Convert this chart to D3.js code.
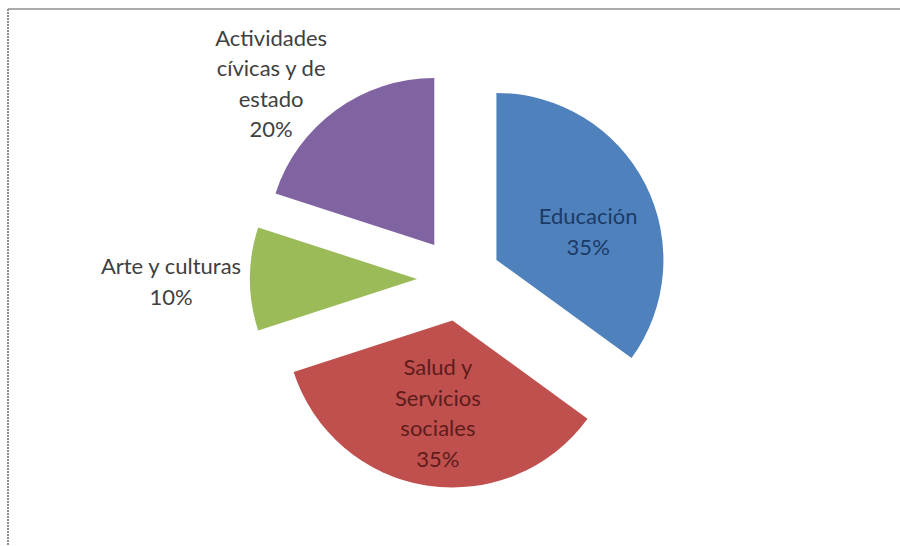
<!DOCTYPE html>
<html>
<head>
<meta charset="utf-8">
<script src="https://cdn.jsdelivr.net/npm/d3@7"></script>
<style>
  html, body { margin: 0; padding: 0; background: #fff; }
  svg { display: block; }
</style>
</head>
<body>
<div id="chart"></div>
<script>
// Datos del gráfico
const categories = ['Educación', 'Salud y Servicios sociales', 'Arte y culturas', 'Actividades cívicas y de estado'];
const values = [35, 35, 10, 20];
const labelLines = [
  ['Educación', '35%'],
  ['Salud y', 'Servicios', 'sociales', '35%'],
  ['Arte y culturas', '10%'],
  ['Actividades', 'cívicas y de', 'estado', '20%']
];

// Estilo
const colors = ['#4F81BD', '#C0504D', '#9BBB59', '#8064A2'];
const textColors = ['#1b3b66', '#5e1c1b', '#404040', '#404040'];

// Posición de etiquetas: radio desde el centro desplazado + ajuste fino
const labelLayout = [
  { r: 103, dx: 0, dy: 18 },
  { r: 93, dx: 0, dy: 0 },
  { r: 246, dx: 0, dy: 2 },
  { r: 230, dx: -28, dy: 24 }
];

const width = 900;
const height = 546;
const center = { x: 459, y: 279 };
const radius = 167;
const explode = 42;
const lineHeight = 30.5;

const svg = d3.select('#chart')
  .append('svg')
  .attr('width', width)
  .attr('height', height)
  .attr('viewBox', `0 0 ${width} ${height}`);

// Marco (borde superior e izquierdo)
svg.append('line')
  .attr('x1', 8).attr('y1', 9)
  .attr('x2', width).attr('y2', 9)
  .attr('stroke', '#ababab')
  .attr('stroke-width', 2);

svg.append('line')
  .attr('x1', 8).attr('y1', 9)
  .attr('x2', 8).attr('y2', height)
  .attr('stroke', '#8c8c8c')
  .attr('stroke-width', 2)
  .attr('stroke-dasharray', '2,1');

const pie = d3.pie()
  .sort(null)
  .value(d => d);

const arcs = pie(values);

const arc = d3.arc()
  .innerRadius(0)
  .outerRadius(radius);

const polar = (angle, r) => ({ x: Math.sin(angle) * r, y: -Math.cos(angle) * r });

const g = svg.append('g')
  .attr('transform', `translate(${center.x}, ${center.y})`);

// Sectores desplazados
const slices = g.selectAll('g.slice')
  .data(arcs)
  .enter()
  .append('g')
  .attr('class', 'slice')
  .attr('transform', d => {
    const p = polar((d.startAngle + d.endAngle) / 2, explode);
    return `translate(${p.x}, ${p.y})`;
  });

slices.append('path')
  .attr('d', arc)
  .attr('fill', (d, i) => colors[i]);

// Etiquetas
slices.each(function(d, i) {
  const mid = (d.startAngle + d.endAngle) / 2;
  const layout = labelLayout[i];
  const p = polar(mid, layout.r);
  const lines = labelLines[i];
  const cx = p.x + layout.dx;
  const cy = p.y + layout.dy;
  const top = cy - (lines.length - 1) * lineHeight / 2;

  const text = d3.select(this).append('text')
    .attr('text-anchor', 'middle')
    .attr('font-family', 'Lato, "Open Sans", sans-serif')
    .attr('font-size', '22px')
    .attr('fill', textColors[i]);

  text.selectAll('tspan')
    .data(lines)
    .enter()
    .append('tspan')
    .attr('x', cx)
    .attr('y', (l, j) => top + j * lineHeight)
    .attr('dominant-baseline', 'central')
    .text(l => l);
});
</script>
</body>
</html>
